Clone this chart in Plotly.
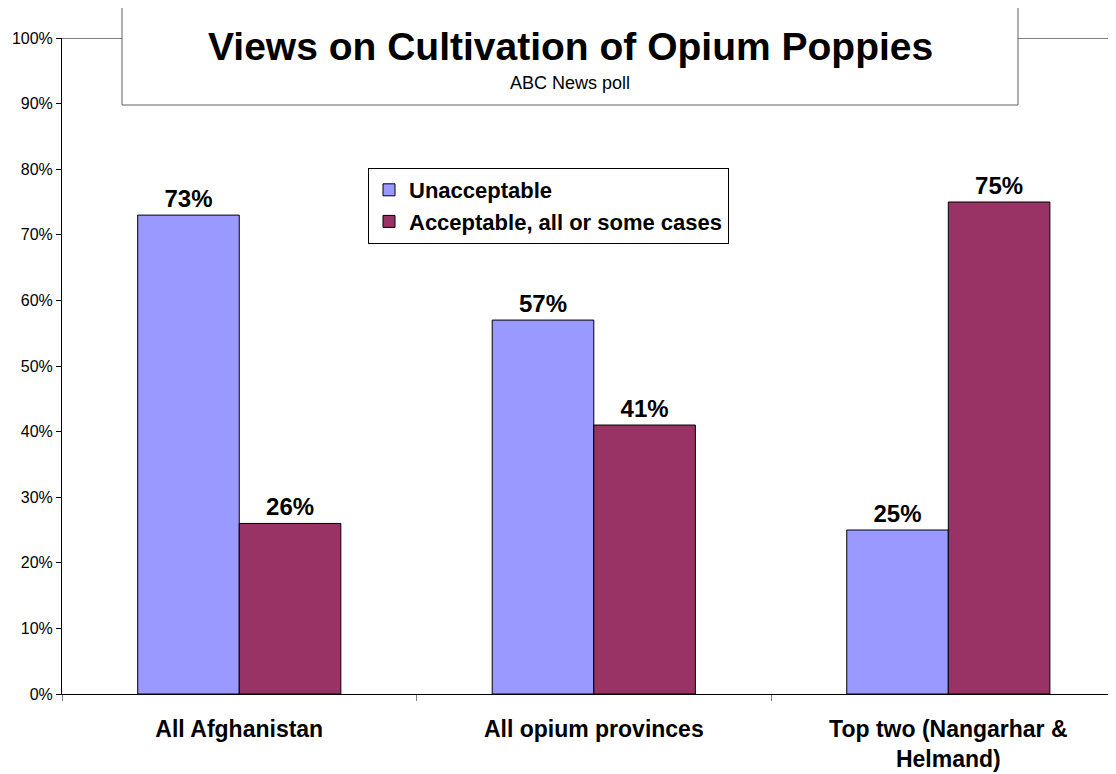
import plotly.graph_objects as go

categories = ["All Afghanistan", "All opium provinces", "Top two (Nangarhar &<br>Helmand)"]
unacceptable = [73, 57, 25]
acceptable = [26, 41, 75]
series_names = ["Unacceptable", "Acceptable, all or some cases"]
title_text = "Views on Cultivation of Opium Poppies"
subtitle_text = "ABC News poll"

FONT = "Liberation Sans, Arial, sans-serif"

fig = go.Figure()
fig.add_trace(go.Bar(
    x=categories, y=unacceptable, name=series_names[0],
    marker=dict(color="#9999FF", line=dict(color="#000000", width=1)),
    text=[f"{v}%" for v in unacceptable], textposition="outside",
    textfont=dict(family=FONT, size=24, color="black", weight="bold"), cliponaxis=False,
))
fig.add_trace(go.Bar(
    x=categories, y=acceptable, name=series_names[1],
    marker=dict(color="#993366", line=dict(color="#000000", width=1)),
    text=[f"{v}%" for v in acceptable], textposition="outside",
    textfont=dict(family=FONT, size=24, color="black", weight="bold"), cliponaxis=False,
))

fig.update_layout(
    width=1108, height=766,
    margin=dict(l=54, r=0, t=30, b=80),
    paper_bgcolor="white", plot_bgcolor="white",
    barmode="group", bargap=0.427, bargroupgap=0,
    font=dict(family=FONT, color="black"),
    showlegend=True,
    legend=dict(
        x=(368 - 62) / 1054, y=(694 - 168) / 656, xanchor="left", yanchor="top",
        bgcolor="white", bordercolor="#000000", borderwidth=1,
        font=dict(family=FONT, size=22, color="black", weight="bold"),
        tracegroupgap=0, itemwidth=30,
    ),
    xaxis=dict(
        type="category", range=[-0.5, 2.473],
        showline=True, linecolor="black", linewidth=1,
        ticks="outside", tickson="boundaries", ticklen=6, tickcolor="#808080",
        tickfont=dict(family=FONT, size=23, color="black", weight="bold"),
        ticklabelstandoff=14,
        showgrid=False, fixedrange=True,
    ),
    yaxis=dict(
        range=[0, 100], dtick=10, ticksuffix="%",
        showline=True, linecolor="black", linewidth=1,
        ticks="outside", ticklen=5, tickcolor="black",
        tickfont=dict(family=FONT, size=16, color="black"),
        showgrid=False, zeroline=False,
    ),
)

# top gridline at 100%
fig.add_shape(type="line", xref="paper", yref="y", x0=0, x1=1, y0=100, y1=100,
              line=dict(color="#808080", width=2), layer="below")

# title box
fig.add_shape(type="rect", xref="paper", yref="paper",
              x0=(122 - 62) / 1054, x1=(1018 - 62) / 1054,
              y0=(694 - 105) / 656, y1=(694 + 20) / 656,
              line=dict(color="#606060", width=1), fillcolor="white", layer="above")
fig.add_annotation(xref="paper", yref="paper", x=(570 - 62) / 1054, y=(694 - 47) / 656,
                   text="<b>" + title_text + "</b>", showarrow=False,
                   font=dict(family=FONT, size=39, color="black"),
                   xanchor="center", yanchor="middle")
fig.add_annotation(xref="paper", yref="paper", x=(570 - 62) / 1054, y=(694 - 83) / 656,
                   text=subtitle_text, showarrow=False,
                   font=dict(family=FONT, size=18, color="black"),
                   xanchor="center", yanchor="middle")

fig.write_html("out.html")
